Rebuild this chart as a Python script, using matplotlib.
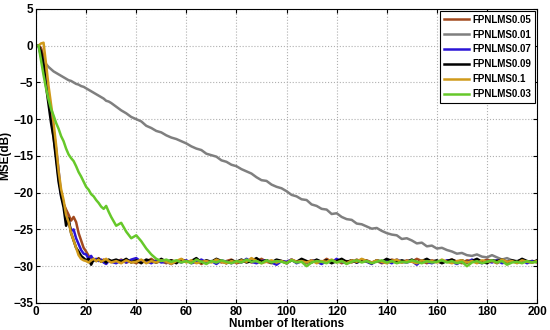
import matplotlib
matplotlib.use("Agg")
import matplotlib.pyplot as plt

# iterations: every step up to 30, then every second step
iters = list(range(1, 31)) + list(range(32, 201, 2))

# series values (dB)
mse_005 = [0, -0.3, -1.5, -4.0, -6.5, -9.5, -12.5, -15.0, -18.0, -20.0,
           -21.5, -22.3, -23.0, -23.8, -23.3, -24.0, -25.5, -26.5, -27.5, -28.0,
           -28.6, -28.9, -29.0, -29.2, -28.9, -29.3, -29.1, -29.4, -29.2, -29.3,
           -29.4, -29.1, -29.5, -29.3, -29.6, -29.2, -29.4, -29.0, -29.5, -29.3,
           -29.6, -29.2, -29.4, -29.1, -29.3, -29.5, -29.2, -29.7, -29.3, -29.4,
           -29.2, -29.5, -29.3, -29.1, -29.6, -29.4, -29.2, -29.5, -29.3, -29.0,
           -29.4, -29.6, -29.2, -29.3, -29.5, -29.1, -29.4, -29.3, -29.6, -29.2,
           -29.3, -29.5, -29.0, -29.4, -29.2, -29.6, -29.3, -29.5, -29.1, -29.4,
           -29.2, -29.5, -29.3, -29.6, -29.4, -29.1, -29.3, -29.5, -29.2, -29.4,
           -29.0, -29.3, -29.6, -29.2, -29.4, -29.5, -29.3, -29.1, -29.4, -29.6,
           -29.2, -29.3, -29.5, -29.4, -29.1, -29.3, -29.6, -29.2, -29.4, -29.3,
           -29.5, -29.2, -29.4, -29.3, -29.5]

mse_001 = [0, -1.2, -2.0, -2.5, -2.9, -3.2, -3.5, -3.7, -3.9, -4.1,
           -4.3, -4.5, -4.7, -4.8, -5.0, -5.2, -5.3, -5.5, -5.6, -5.8,
           -6.0, -6.2, -6.4, -6.6, -6.8, -7.0, -7.2, -7.5, -7.6, -7.8,
           -8.3, -8.8, -9.2, -9.7, -10.0, -10.3, -10.9, -11.2, -11.6, -11.8,
           -12.2, -12.5, -12.7, -13.0, -13.3, -13.7, -14.0, -14.2, -14.7, -14.9,
           -15.1, -15.6, -15.8, -16.2, -16.4, -16.8, -17.1, -17.4, -17.9, -18.3,
           -18.4, -18.9, -19.2, -19.4, -19.8, -20.3, -20.5, -20.9, -21.0, -21.6,
           -21.8, -22.2, -22.3, -22.9, -22.8, -23.3, -23.6, -23.7, -24.2, -24.3,
           -24.6, -24.9, -24.8, -25.2, -25.5, -25.7, -25.8, -26.3, -26.2, -26.5,
           -26.9, -26.8, -27.3, -27.2, -27.6, -27.5, -27.8, -28.0, -28.3, -28.2,
           -28.5, -28.6, -28.4, -28.7, -28.8, -28.5, -28.8, -29.1, -28.9, -29.2,
           -29.3, -29.1, -29.5, -29.3, -29.4]

mse_007 = [0, -1.5, -3.2, -5.0, -6.8, -9.0, -11.5, -14.0, -17.0, -20.3,
           -21.5, -23.0, -24.0, -25.2, -25.0, -26.2, -27.0, -27.8, -28.3, -28.4,
           -29.0, -28.6, -29.2, -29.0, -29.3, -29.1, -29.5, -29.7, -29.3, -29.4,
           -29.6, -29.2, -29.5, -29.1, -28.9, -29.4, -29.3, -29.6, -29.2, -29.5,
           -29.4, -29.7, -29.3, -29.5, -29.2, -29.6, -29.4, -29.1, -29.5, -29.3,
           -29.7, -29.2, -29.4, -29.6, -29.3, -29.5, -29.0, -29.4, -29.6, -29.3,
           -29.2, -29.5, -29.8, -29.3, -29.4, -29.1, -29.6, -29.3, -29.5, -29.2,
           -29.4, -29.7, -29.3, -29.5, -29.0, -29.4, -29.6, -29.2, -29.5, -29.3,
           -29.4, -29.7, -29.2, -29.5, -29.3, -29.6, -29.1, -29.4, -29.5, -29.3,
           -29.8, -29.2, -29.4, -29.6, -29.3, -29.5, -29.2, -29.4, -29.7, -29.3,
           -29.5, -29.1, -29.4, -29.6, -29.3, -29.5, -29.2, -29.6, -29.4, -29.3,
           -29.5, -29.2, -29.6, -29.3, -29.4]

mse_009 = [0, -0.8, -2.5, -5.5, -8.0, -10.5, -12.5, -15.5, -18.5, -20.5,
           -22.0, -24.5, -23.5, -25.5, -26.5, -27.5, -28.0, -28.6, -28.9, -29.2,
           -29.0, -29.8, -29.1, -29.3, -29.0, -29.4, -29.2, -29.5, -29.1, -29.3,
           -29.1, -29.4, -29.0, -29.5, -29.2, -29.6, -29.1, -29.3, -29.5, -29.0,
           -29.4, -29.2, -29.6, -29.1, -29.4, -29.3, -28.9, -29.5, -29.2, -29.4,
           -29.0, -29.3, -29.6, -29.2, -29.4, -29.1, -29.5, -29.3, -28.9, -29.4,
           -29.2, -29.5, -29.1, -29.3, -29.6, -29.2, -29.4, -29.0, -29.3, -29.5,
           -29.1, -29.4, -29.2, -29.6, -29.3, -29.0, -29.4, -29.2, -29.5, -29.1,
           -29.3, -29.6, -29.2, -29.4, -29.0, -29.3, -29.5, -29.2, -29.4, -29.1,
           -29.5, -29.3, -29.0, -29.4, -29.2, -29.6, -29.3, -29.1, -29.4, -29.2,
           -29.5, -29.3, -29.0, -29.4, -29.6, -29.2, -29.3, -29.1, -29.5, -29.2,
           -29.4, -29.0, -29.3, -29.5, -29.2]

mse_01 = [0, 0.3, 0.4, -2.5, -5.5, -8.0, -10.5, -13.5, -17.0, -19.5,
          -21.0, -23.0, -24.0, -25.5, -26.5, -27.5, -28.5, -29.0, -29.2, -29.3,
          -29.5, -29.2, -29.0, -29.3, -29.1, -29.4, -29.2, -29.0, -29.3, -29.5,
          -29.3, -29.6, -29.2, -29.5, -29.4, -29.1, -29.6, -29.3, -29.5, -29.2,
          -29.4, -29.7, -29.3, -29.0, -29.5, -29.2, -29.6, -29.4, -29.3, -29.5,
          -29.1, -29.4, -29.6, -29.3, -29.5, -29.2, -29.4, -28.9, -29.3, -29.6,
          -29.4, -29.2, -29.5, -29.3, -29.6, -29.1, -29.4, -29.3, -29.5, -29.2,
          -29.6, -29.3, -29.4, -29.1, -29.5, -29.3, -29.6, -29.2, -29.4, -29.0,
          -29.3, -29.5, -29.2, -29.4, -29.6, -29.3, -29.1, -29.5, -29.3, -29.4,
          -29.6, -29.2, -29.4, -29.3, -29.5, -29.1, -29.4, -29.6, -29.3, -29.2,
          -29.5, -29.3, -29.6, -29.2, -29.4, -29.3, -29.5, -29.1, -29.4, -29.3,
          -29.6, -29.2, -29.4, -29.5, -29.3]

mse_003 = [0, -2.0, -4.0, -5.8, -7.3, -8.6, -9.5, -10.5, -11.3, -12.3,
           -13.0, -14.0, -14.8, -15.3, -15.7, -16.4, -17.2, -17.8, -18.5, -19.2,
           -19.6, -20.2, -20.5, -21.0, -21.4, -21.9, -22.2, -21.8, -22.6, -23.3,
           -24.5, -24.1, -25.3, -26.2, -25.8, -26.6, -27.6, -28.4, -29.0, -29.3,
           -29.1,
           -29.4, -29.2, -29.5, -29.3, -29.6, -29.1, -29.4, -29.7, -29.3, -29.5,
           -29.2, -29.4, -29.6, -29.3, -29.5, -29.1, -29.4, -29.3, -29.6, -29.2,
           -29.5, -29.3, -29.4, -29.6, -29.2, -29.5, -29.4, -30.0, -29.5, -29.3,
           -29.4, -29.6, -29.2, -29.5, -29.3, -29.7, -29.4, -29.2, -29.5, -29.3,
           -29.6, -29.4, -29.2, -29.5, -29.3, -29.6, -29.4, -29.5, -29.2, -29.4,
           -29.6, -29.3, -29.5, -29.4, -29.2, -29.5, -29.3, -29.6, -29.4, -30.0,
           -29.5, -29.3, -29.6, -29.4, -29.2, -29.5, -29.3, -29.8, -29.5, -29.4,
           -29.6, -29.3, -29.5, -29.4]

labels = ['FPNLMS0.05', 'FPNLMS0.01', 'FPNLMS0.07', 'FPNLMS0.09', 'FPNLMS0.1', 'FPNLMS0.03']
series = [mse_005, mse_001, mse_007, mse_009, mse_01, mse_003]
colors = ['#a24a1e', '#7f7f7f', '#2a14d6', '#000000', '#d09a1a', '#66c82a']

plt.rcParams['font.family'] = ['Liberation Sans', 'DejaVu Sans']
plt.rcParams['font.weight'] = 'bold'

fig = plt.figure(figsize=(5.5, 3.3), dpi=100)
ax = fig.add_axes([0.0655, 0.082, 0.911, 0.891])

for y, lab, c in zip(series, labels, colors):
    ax.plot(iters, y, color=c, lw=1.8, label=lab)

ax.set_xlim(0, 200)
ax.set_ylim(-35, 5)
ax.set_xticks(range(0, 201, 20))
ax.set_yticks(range(-35, 6, 5))
ax.grid(True, linestyle=':', color='#b0b0b0', lw=0.8)
ax.tick_params(direction='in', labelsize=8.5, top=True, right=True, length=3, pad=2)
for lab in ax.get_xticklabels() + ax.get_yticklabels():
    lab.set_fontweight('bold')

ax.set_xlabel('Number of Iterations', fontsize=8.5, fontweight='bold', labelpad=0)
ax.set_ylabel('MSE(dB)', fontsize=8.5, fontweight='bold', labelpad=1)

leg = ax.legend(loc='upper right', fontsize=7, handlelength=2.6, handletextpad=0.3,
                borderpad=0.4, labelspacing=0.5, fancybox=False, framealpha=1,
                borderaxespad=0.2)
leg.get_frame().set_edgecolor('black')
leg.get_frame().set_linewidth(0.8)
for t in leg.get_texts():
    t.set_fontweight('bold')

fig.savefig('out.png', dpi=100)
